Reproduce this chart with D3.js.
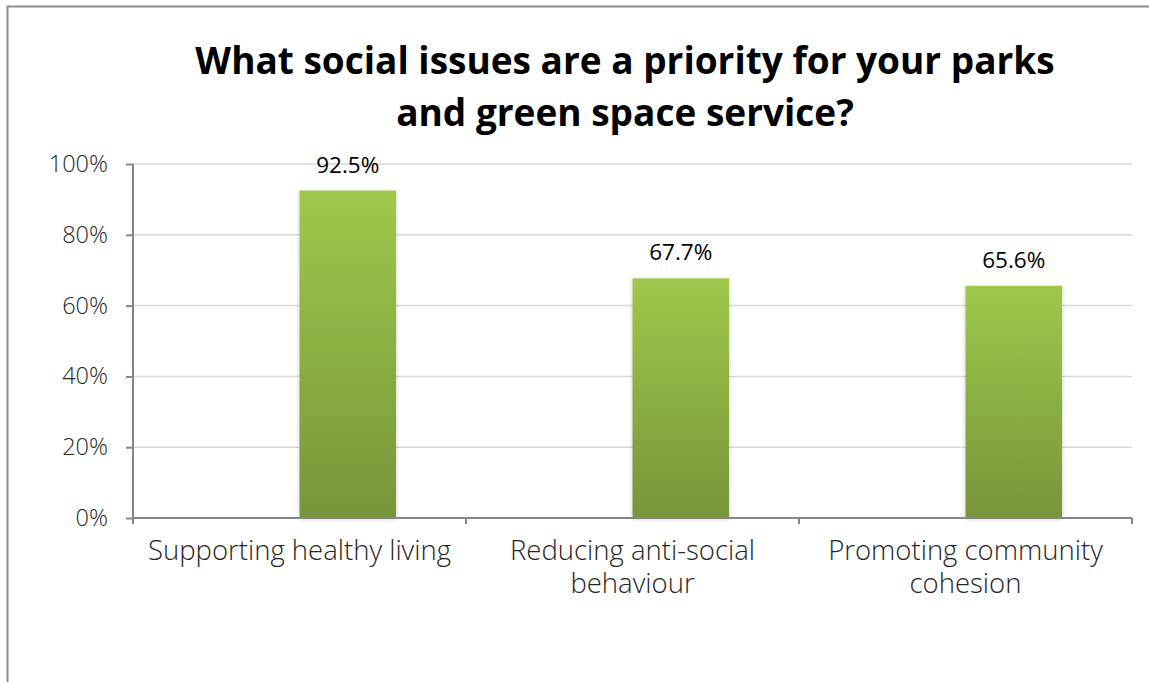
<!DOCTYPE html>
<html>
<head>
<meta charset="utf-8">
<script src="https://cdn.jsdelivr.net/npm/d3@7"></script>
<style>
  html, body { margin: 0; padding: 0; background: #fff; }
  svg { display: block; }
</style>
</head>
<body>
<svg id="chart" width="1149" height="682"></svg>
<script>
// Survey results: share of services naming each social issue as a priority
const categories = [
  ["Supporting healthy living"],
  ["Reducing anti-social", "behaviour"],
  ["Promoting community", "cohesion"]
];
const categoryKeys = ["Supporting healthy living", "Reducing anti-social behaviour", "Promoting community cohesion"];
const values = [0.925, 0.677, 0.656];
const valueLabels = ["92.5%", "67.7%", "65.6%"];
const tickValues = [0, 0.2, 0.4, 0.6, 0.8, 1.0];
const titleLines = ["What social issues are a priority for your parks", "and green space service?"];
// series slots within each category; only the second slot carries data
const seriesSlots = ["blank", "priority"];

const svg = d3.select("#chart");
const W = 1149, H = 682;
const margin = { left: 133, right: 17, top: 164, bottom: 164 };
const plotW = 1132 - margin.left;
const plotH = 518 - margin.top;

// outer chart border (runs off the right and bottom of the frame)
svg.append("rect")
  .attr("x", 7.5).attr("y", 6.5)
  .attr("width", W + 20).attr("height", H + 20)
  .attr("fill", "#fff").attr("stroke", "#8c8c8c").attr("stroke-width", 2);

const defs = svg.append("defs");
const grad = defs.append("linearGradient")
  .attr("id", "barGrad").attr("x1", 0).attr("y1", 0).attr("x2", 0).attr("y2", 1);
grad.append("stop").attr("offset", "0%").attr("stop-color", "#9fc84b");
grad.append("stop").attr("offset", "100%").attr("stop-color", "#77953a");

const shadow = defs.append("filter").attr("id", "barShadow")
  .attr("x", "-20%").attr("y", "-10%").attr("width", "140%").attr("height", "120%");
shadow.append("feGaussianBlur").attr("in", "SourceAlpha").attr("stdDeviation", 2.2).attr("result", "b");
shadow.append("feOffset").attr("in", "b").attr("dx", 0).attr("dy", 1).attr("result", "o");
shadow.append("feComponentTransfer").attr("in", "o").attr("result", "s")
  .append("feFuncA").attr("type", "linear").attr("slope", 0.22);
const merge = shadow.append("feMerge");
merge.append("feMergeNode").attr("in", "s");
merge.append("feMergeNode").attr("in", "SourceGraphic");

// title
const title = svg.append("text")
  .attr("font-family", "'Open Sans', 'Noto Sans', sans-serif")
  .attr("font-weight", 700)
  .attr("font-size", 37)
  .attr("fill", "#000")
  .attr("text-anchor", "middle");
title.selectAll("tspan").data(titleLines).join("tspan")
  .attr("x", 625)
  .attr("y", (d, i) => 74 + i * 52)
  .text(d => d);

const g = svg.append("g").attr("transform", `translate(${margin.left},${margin.top})`);

const x = d3.scaleBand().domain(categoryKeys).range([0, plotW]).paddingInner(0).paddingOuter(0);
const xs = d3.scaleBand().domain(seriesSlots).range([x.bandwidth() * 0.21, x.bandwidth() * 0.79]);
const y = d3.scaleLinear().domain([0, 1]).range([plotH, 0]);

// horizontal gridlines
g.append("g").selectAll("line").data(tickValues.filter(t => t > 0)).join("line")
  .attr("x1", 0).attr("x2", plotW)
  .attr("y1", d => y(d)).attr("y2", d => y(d))
  .attr("stroke", "#d9d9d9").attr("stroke-width", 1.5);

// bars
g.append("g").selectAll("rect").data(values).join("rect")
  .attr("x", (d, i) => x(categoryKeys[i]) + xs("priority"))
  .attr("y", d => y(d))
  .attr("width", xs.bandwidth())
  .attr("height", d => plotH - y(d))
  .attr("fill", "url(#barGrad)")
  .attr("filter", "url(#barShadow)");

// value labels
g.append("g").selectAll("text").data(values).join("text")
  .attr("x", (d, i) => x(categoryKeys[i]) + xs("priority") + xs.bandwidth() / 2)
  .attr("y", d => y(d) - 18)
  .attr("text-anchor", "middle")
  .attr("font-family", "'Open Sans', 'Noto Sans', sans-serif")
  .attr("font-size", 22.5)
  .attr("fill", "#000")
  .text((d, i) => valueLabels[i]);

// y axis
const yAxis = d3.axisLeft(y).tickValues(tickValues).tickSize(7).tickPadding(18)
  .tickFormat(d3.format(".0%"));
const yg = g.append("g").call(yAxis);
yg.select(".domain").attr("stroke", "#868686").attr("stroke-width", 2).attr("d", `M0,0V${plotH}`);
yg.selectAll(".tick line").attr("stroke", "#868686").attr("stroke-width", 2);
yg.selectAll(".tick text")
  .attr("font-family", "'Open Sans', 'Noto Sans', sans-serif")
  .attr("font-weight", 300)
  .attr("font-size", 23.5)
  .attr("fill", "#262626");

// x axis
const xAxis = d3.axisBottom(x).tickSize(0).tickFormat("");
const xg = g.append("g").attr("transform", `translate(0,${plotH})`).call(xAxis);
xg.select(".domain").attr("stroke", "#868686").attr("stroke-width", 2).attr("d", `M0,0H${plotW}`);
xg.selectAll(".tick").remove();
xg.selectAll("line.sep").data(d3.range(categoryKeys.length + 1)).join("line")
  .attr("class", "sep")
  .attr("x1", i => i * x.step()).attr("x2", i => i * x.step())
  .attr("y1", 0).attr("y2", 6)
  .attr("stroke", "#868686").attr("stroke-width", 2);

// category labels
const catText = g.append("g").selectAll("text").data(categories).join("text")
  .attr("text-anchor", "middle")
  .attr("font-family", "'Open Sans', 'Noto Sans', sans-serif")
  .attr("font-weight", 300)
  .attr("font-size", 27.5)
  .attr("fill", "#262626");
catText.each(function(lines, i) {
  d3.select(this).selectAll("tspan").data(lines).join("tspan")
    .attr("x", x(categoryKeys[i]) + x.bandwidth() / 2)
    .attr("y", (d, j) => plotH + 42 + j * 33)
    .text(d => d);
});
</script>
</body>
</html>
